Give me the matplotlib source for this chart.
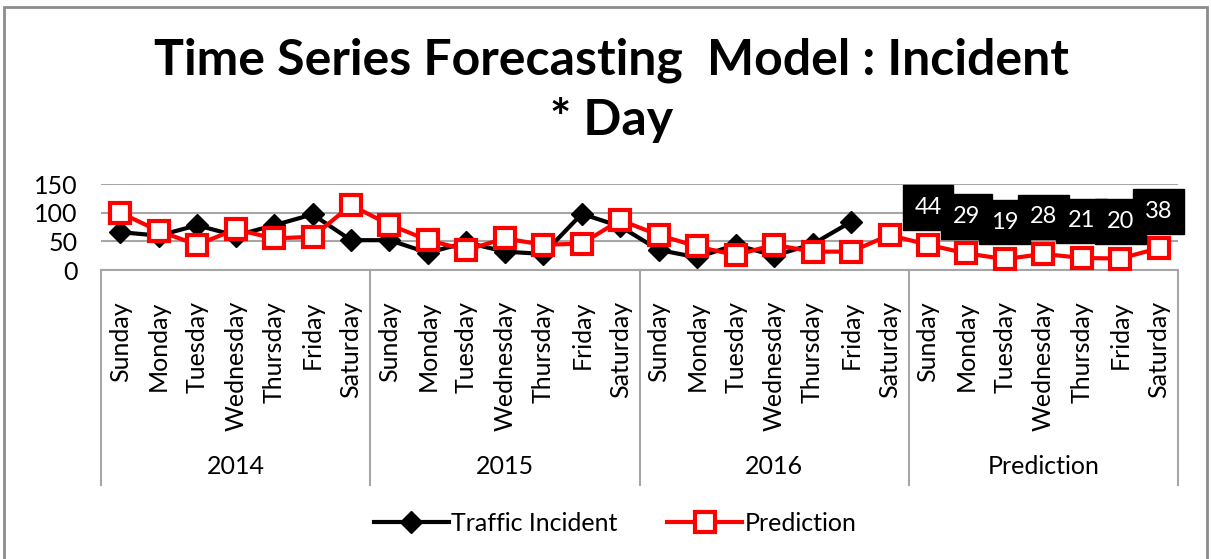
import matplotlib.pyplot as plt
import matplotlib.transforms as mtransforms
from matplotlib.patches import Rectangle
import numpy as np

plt.rcParams['font.family'] = ['Lato', 'DejaVu Sans']

days = ["Sunday", "Monday", "Tuesday", "Wednesday", "Thursday", "Friday", "Saturday"]
groups = ["2014", "2015", "2016", "Prediction"]

# traffic incidents (2014, 2015, 2016 up to Friday)
incident_2014 = [66, 60, 78, 60, 78, 97, 52]
incident_2015 = [52, 30, 48, 32, 28, 98, 76]
incident_2016 = [35, 22, 44, 25, 45, 84]

# model output, last week is the forecast
pred_2014 = [100, 68, 44, 71, 55, 58, 113]
pred_2015 = [79, 52, 35, 55, 44, 46, 87]
pred_2016 = [61, 41, 26, 44, 32, 32, 61]
pred_next = [44, 29, 19, 28, 21, 20, 38]

incident = np.array(incident_2014 + incident_2015 + incident_2016 + [np.nan] * 8, dtype=float)
prediction = np.array(pred_2014 + pred_2015 + pred_2016 + pred_next, dtype=float)
x = np.arange(len(prediction))

fig = plt.figure(figsize=(12.11, 5.59), dpi=100)
ax = fig.add_axes([101 / 1211, 289 / 559, 1077 / 1211, 86 / 559])

# outer chart frame
fig.patches.append(Rectangle((4 / 1211, -0.02), 1203 / 1211, 1.0 - 7 / 559 + 0.02,
                             transform=fig.transFigure, fill=False,
                             edgecolor='#8c8c8c', linewidth=2))

ax.plot(x, incident, color='black', linewidth=3, marker='D', markersize=11,
        markerfacecolor='black', markeredgecolor='black', label='Traffic Incident', zorder=3)
ax.plot(x, prediction, color='#ff0000', linewidth=3, marker='s', markersize=14,
        markerfacecolor='white', markeredgecolor='#ff0000', markeredgewidth=3,
        label='Prediction', zorder=4)

# data labels on the forecast week: boxes first, then the white numbers on top
for i in range(21, 28):
    ax.annotate(f"{int(prediction[i])}", (x[i], prediction[i]), xytext=(0, 37),
                textcoords='offset pixels', ha='center', va='center', color='black',
                fontsize=17, zorder=5, annotation_clip=False,
                bbox=dict(boxstyle='square,pad=0.5', facecolor='black', edgecolor='black'))
for i in range(21, 28):
    ax.annotate(f"{int(prediction[i])}", (x[i], prediction[i]), xytext=(0, 37),
                textcoords='offset pixels', ha='center', va='center', color='white',
                fontsize=17, zorder=6, annotation_clip=False)

ax.set_xlim(-0.5, len(x) - 0.5)
ax.set_ylim(0, 150)
ax.set_yticks([0, 50, 100, 150])
ax.tick_params(axis='y', length=0, labelsize=18, pad=17)
ax.set_xticks([])
ax.grid(axis='y', color='#a6a6a6', linewidth=1.5)
ax.set_axisbelow(True)
for s in ['top', 'right', 'left']:
    ax.spines[s].set_visible(False)
ax.spines['bottom'].set_color('#a6a6a6')
ax.spines['bottom'].set_linewidth(1.5)

# multi-level category axis
trans = mtransforms.blended_transform_factory(ax.transData, ax.transAxes)
for b in [-0.5, 6.5, 13.5, 20.5, 27.5]:
    ax.plot([b, b], [0, -2.5], transform=trans, color='#a6a6a6', linewidth=1.5, clip_on=False)
for i in x:
    ax.text(i, -0.36, days[i % 7], transform=trans, rotation=90, ha='center', va='top',
            fontsize=18)
for g, name in enumerate(groups):
    ax.text(g * 7 + 3, -2.29, name, transform=trans, ha='center', va='center', fontsize=18)

fig.text(0.505, 1 - 60 / 559, "Time Series Forecasting  Model : Incident", ha='center',
         va='center', fontsize=36, fontweight='bold')
fig.text(0.505, 1 - 120 / 559, "* Day", ha='center', va='center', fontsize=36,
         fontweight='bold')

fig.legend(loc='center', bbox_to_anchor=(0.508, 0.064), ncol=2, frameon=False,
           fontsize=18, handlelength=3.0, columnspacing=2.0, handletextpad=0.1)

fig.savefig('out.png', dpi=100)
